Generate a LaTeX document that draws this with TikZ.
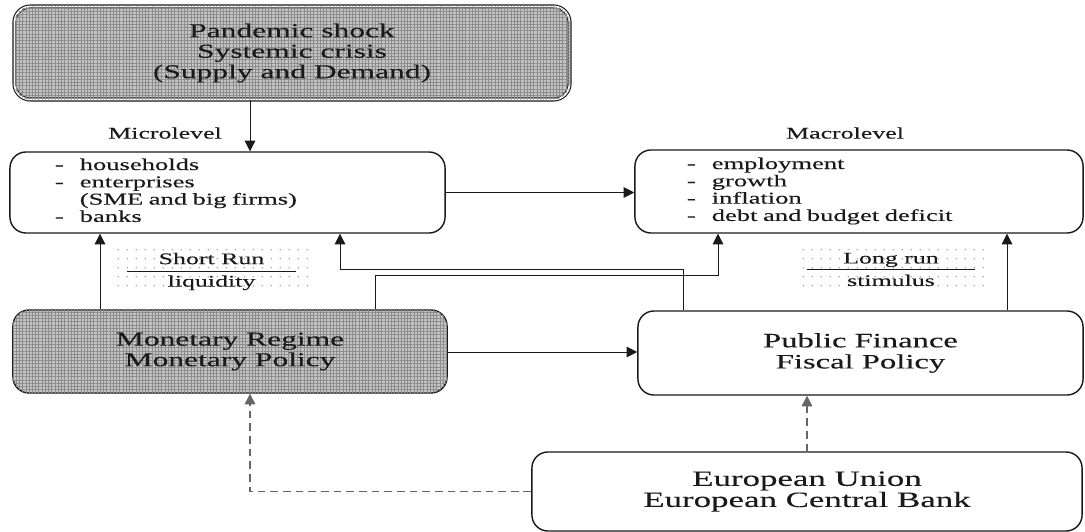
\documentclass[tikz,border=0pt]{standalone}
\usepackage{fontspec}
\setmainfont{Liberation Serif}[FakeStretch=1.6, FakeBold=0.2]
\usetikzlibrary{arrows.meta,patterns.meta}
\definecolor{flowink}{HTML}{1A1A1A}
\definecolor{flowmuted}{HTML}{666666}
\definecolor{flowshade}{HTML}{C4C4C4}

\begin{document}
\begin{tikzpicture}[
  x=0.025cm,
  y=-0.025cm,
  every node/.style={flowink},
  box/.style={draw=flowink, line width=1pt, rounded corners=0.4cm},
  shaded/.style={box, fill=flowshade,
    postaction={pattern={Hatch[angle=0, distance=2.3pt, line width=0.45pt]},
      pattern color=flowink!50}},
  note/.style={inner sep=0pt, pattern={Dots[distance=6.5pt, radius=0.55pt]},
    pattern color=flowmuted!80, align=center, font=\fontsize{11.5}{14}\selectfont},
  level/.style={font=\fontsize{11.5}{13}\selectfont},
  arrow/.style={flowink, line width=0.7pt, -{Triangle[length=7.5pt, width=7.5pt]}},
  linkarrow/.style={flowmuted, line width=0.9pt, dash pattern=on 5.5pt off 3.5pt,
    -{Triangle[length=7.5pt, width=7.5pt]}}
]
  \useasboundingbox (0,0) rectangle (1085,532);

  %% ---- boxes ---------------------------------------------------------
  \node[shaded, double=white, double distance=1.3pt, line width=0.8pt,
    minimum width=13.875cm, minimum height=2.325cm, align=center,
    font=\fontsize{14}{14.6}\selectfont] (shock) at (292,53)
    {Pandemic shock\\Systemic crisis\\(Supply and Demand)};

  \node[box, minimum width=10.875cm, minimum height=2.025cm,
    text width=8.625cm, inner xsep=1.125cm, align=left,
    font=\fontsize{11.8}{12.3}\selectfont] (micro) at (227.5,192.5)
    {\begin{tabular}{@{}l@{\hspace{0.4cm}}l@{}}
      - & households\\
      - & enterprises\\
        & (SME and big firms)\\
      - & banks
    \end{tabular}};

  \node[box, minimum width=11.2cm, minimum height=2.075cm,
    text width=8.6cm, inner xsep=1.3cm, align=left,
    font=\fontsize{11.8}{12.3}\selectfont] (macro) at (859,191.5)
    {\begin{tabular}{@{}l@{\hspace{0.4cm}}l@{}}
      - & employment\\
      - & growth\\
      - & inflation\\
      - & debt and budget deficit
    \end{tabular}};

  \node[shaded, minimum width=10.85cm, minimum height=2.075cm, align=center,
    font=\fontsize{14}{14.6}\selectfont] (monetary) at (230,351.5)
    {Monetary Regime\\Monetary Policy};

  \node[box, minimum width=11.125cm, minimum height=2.1cm, align=center,
    font=\fontsize{14.5}{15}\selectfont] (public) at (860.5,353)
    {Public Finance\\Fiscal Policy};

  \node[box, minimum width=13.75cm, minimum height=1.975cm, align=center,
    font=\fontsize{15.5}{15}\selectfont] (union) at (807,491.5)
    {European Union\\European Central Bank};

  %% ---- labels --------------------------------------------------------
  \node[level] (microlabel) at (165,133) {Microlevel};
  \node[level] (macrolabel) at (845,133) {Macrolevel};

  \node[note, minimum width=5.075cm, minimum height=1.075cm] (shortrun)
    at (211.5,271.5) {Short Run\\[2pt]liquidity};
  \draw[flowink, line width=0.5pt]
    ([xshift=-2.1cm]shortrun.center) -- ([xshift=2.1cm]shortrun.center);

  \node[note, minimum width=4.8cm, minimum height=1.125cm] (longrun)
    at (891,269.5) {Long run\\[2pt]stimulus};
  \draw[flowink, line width=0.5pt]
    ([xshift=-2.1cm]longrun.center) -- ([xshift=2.1cm]longrun.center);

  %% ---- connectors ----------------------------------------------------
  \coordinate (shockx) at (250,0);
  \coordinate (moneyx) at (100,0);
  \coordinate (pubturn) at (340,269);
  \coordinate (pubx) at (683,0);
  \coordinate (monturn) at (718,275);
  \coordinate (monx) at (375,0);
  \coordinate (fiscx) at (1007,0);
  \coordinate (unionx) at (250,0);

  \draw[arrow] (shock.south -| shockx) -- (micro.north -| shockx);
  \draw[arrow] (micro.east) -- (micro.east -| macro.west);
  \draw[arrow] (monetary.north -| moneyx) -- (micro.south -| moneyx);
  \draw[arrow] (public.north -| pubx) |- (pubturn) -- (pubturn |- micro.south);
  \draw[arrow] (monetary.north -| monx) |- (monturn) -- (monturn |- macro.south);
  \draw[arrow] (public.north -| fiscx) -- (macro.south -| fiscx);
  \draw[arrow] (monetary.east |- 0,352) -- (public.west |- 0,352);

  \draw[linkarrow] (union.west) -| (monetary.south -| unionx);
  \draw[linkarrow] (union.north) -- (union.north |- public.south);

\end{tikzpicture}
\end{document}
